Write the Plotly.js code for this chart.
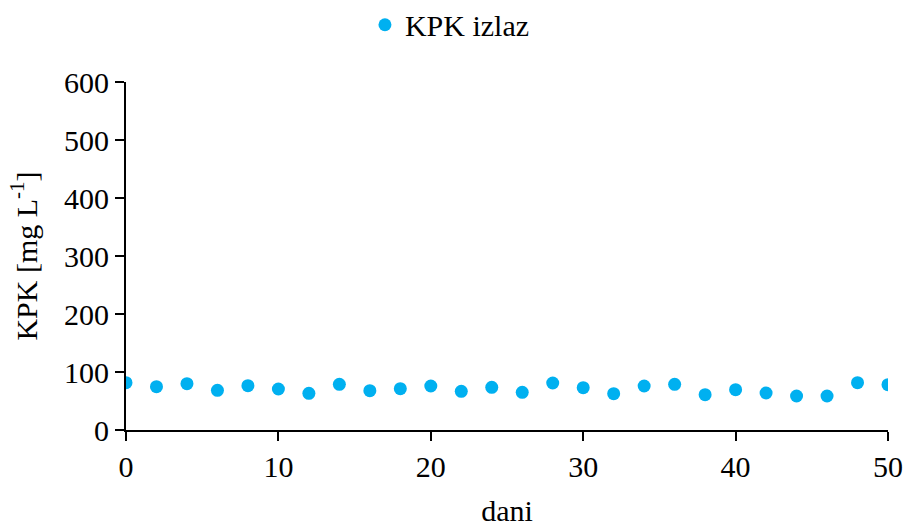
<!DOCTYPE html>
<html>
<head>
<meta charset="utf-8">
<script src="https://cdn.plot.ly/plotly-3.0.1.min.js"></script>
<style>html,body{margin:0;padding:0;background:#fff;}#chart{width:909px;height:527px;}</style>
</head>
<body>
<div id="chart"></div>
<script>
const days = [0,2,4,6,8,10,12,14,16,18,20,22,24,26,28,30,32,34,36,38,40,42,44,46,48,50];
const kpkIzlaz = [81.6,74.7,79.8,68.4,76.4,70.7,63.2,78.7,67.8,71.3,75.9,66.7,73.6,64.9,81.0,72.9,62.6,75.9,78.7,60.9,69.5,63.8,58.6,58.6,81.6,78.1];
const seriesName = 'KPK izlaz';
const xTitle = 'dani';
const yTitle = 'KPK [mg L<sup>-1</sup>]';

const font = {family: 'Liberation Serif', size: 30, color: '#000'};

Plotly.newPlot('chart', [{
  x: days, y: kpkIzlaz, name: seriesName, type: 'scatter', mode: 'markers',
  marker: {color: '#00B0F0', size: 13}
}], {
  width: 909, height: 527,
  margin: {l: 126, r: 21, t: 82, b: 97, autoexpand: false},
  paper_bgcolor: '#fff', plot_bgcolor: '#fff',
  font: font,
  showlegend: true,
  legend: {orientation: 'h', xref: 'container', yref: 'container', x: 0.495, xanchor: 'center', y: 0.953, yanchor: 'middle', font: font, itemwidth: 20},
  xaxis: {
    range: [0, 50], dtick: 10, tick0: 0, showgrid: false, zeroline: false,
    showline: true, linecolor: '#000', linewidth: 2,
    ticks: 'outside', ticklen: 9, tickwidth: 2, tickcolor: '#000',
    tickfont: font, title: {text: xTitle, font: font, standoff: 20}, automargin: false
  },
  yaxis: {
    range: [0, 600], dtick: 100, tick0: 0, showgrid: false, zeroline: false,
    showline: true, linecolor: '#000', linewidth: 2,
    ticks: 'outside', ticklen: 9, tickwidth: 2, tickcolor: '#000',
    tickfont: font, title: {text: yTitle, font: font, standoff: 18}, automargin: false
  }
}, {displayModeBar: false, staticPlot: true});
</script>
</body>
</html>
